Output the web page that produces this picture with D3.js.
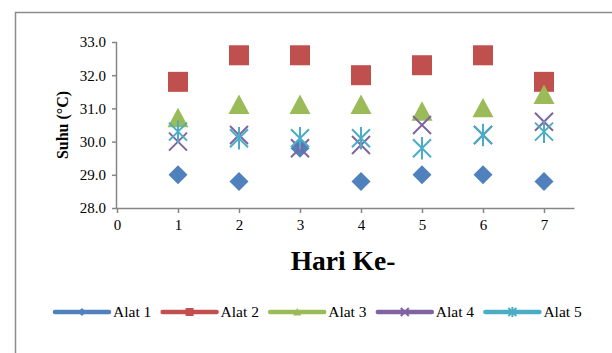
<!DOCTYPE html>
<html>
<head>
<meta charset="utf-8">
<script src="https://cdn.jsdelivr.net/npm/d3@7"></script>
<style>
  html, body { margin: 0; padding: 0; background: #fff; }
  svg { display: block; }
  text { font-family: "Liberation Serif", "Times New Roman", serif; fill: #000; }
</style>
</head>
<body>
<script>
// Daily temperature readings (°C) from five devices
const days = [1, 2, 3, 4, 5, 6, 7];
const alat1 = [29.0, 28.8, 29.8, 28.8, 29.0, 29.0, 28.8];
const alat2 = [31.8, 32.6, 32.6, 32.0, 32.3, 32.6, 31.8];
const alat3 = [30.7, 31.1, 31.1, 31.1, 30.9, 31.0, 31.4];
const alat4 = [30.0, 30.2, 29.8, 29.9, 30.5, 30.2, 30.6];
const alat5 = [30.3, 30.1, 30.1, 30.1, 29.8, 30.2, 30.3];
const seriesNames = ["Alat 1", "Alat 2", "Alat 3", "Alat 4", "Alat 5"];
const xTicks = [0, 1, 2, 3, 4, 5, 6, 7];
const yTicks = [28, 29, 30, 31, 32, 33];

const series = [
  { name: seriesNames[0], values: alat1, color: "#4F81BD", shape: "diamond" },
  { name: seriesNames[1], values: alat2, color: "#C0504D", shape: "square" },
  { name: seriesNames[2], values: alat3, color: "#9BBB59", shape: "triangle" },
  { name: seriesNames[3], values: alat4, color: "#8064A2", shape: "x" },
  { name: seriesNames[4], values: alat5, color: "#4BACC6", shape: "star" }
];

const W = 612, H = 353;
const svg = d3.select("body").append("svg").attr("width", W).attr("height", H);

// chart frame
svg.append("path")
  .attr("d", `M15.5,${H} V12.5 H${W}`)
  .attr("fill", "none").attr("stroke", "#8c8c8c").attr("stroke-width", 1.5);

const x = d3.scaleLinear().domain([0, 7.5]).range([117, 574.5]);
const y = d3.scaleLinear().domain([28, 33]).range([208, 42]);
const axisColor = "#868686";

// y axis
const gy = svg.append("g").attr("transform", `translate(${x(0)},0)`)
  .call(d3.axisLeft(y).tickValues(yTicks).tickFormat(d3.format(".1f")).tickSize(5).tickPadding(6));
// x axis
const gx = svg.append("g").attr("transform", `translate(0,${y(28)})`)
  .call(d3.axisBottom(x).tickValues(xTicks).tickFormat(d3.format("d")).tickSize(5).tickPadding(6));
[gx, gy].forEach(g => {
  g.selectAll("path, line").attr("stroke", axisColor).attr("stroke-width", 1.5);
  g.selectAll("text").attr("font-family", "Liberation Serif").attr("font-size", 15).attr("fill", "#000");
});
gx.select(".domain").attr("d", `M${x(0)},0.5H${x(7.5)}`);
gy.select(".domain").attr("d", `M-0.5,${y(33)}V${y(28)}`);

// axis titles
svg.append("text")
  .attr("transform", `translate(68,${(y(28) + y(33)) / 2}) rotate(-90)`)
  .attr("text-anchor", "middle")
  .attr("font-weight", "bold").attr("font-size", 16)
  .text("Suhu (°C)");
svg.append("text")
  .attr("x", 343).attr("y", 270)
  .attr("text-anchor", "middle")
  .attr("font-weight", "bold").attr("font-size", 27.5)
  .text("Hari Ke-");

// marker drawing
function drawMarker(g, shape, color, s) {
  if (shape === "diamond") {
    g.append("path").attr("d", `M0,${-s}L${s},0L0,${s}L${-s},0Z`).attr("fill", color);
  } else if (shape === "square") {
    g.append("rect").attr("x", -s).attr("y", -s).attr("width", 2 * s).attr("height", 2 * s).attr("fill", color);
  } else if (shape === "triangle") {
    g.append("path").attr("d", `M0,${-s}L${s},${s * 0.85}L${-s},${s * 0.85}Z`).attr("fill", color);
  } else if (shape === "x") {
    g.append("path").attr("d", `M${-s},${-s}L${s},${s}M${s},${-s}L${-s},${s}`)
      .attr("stroke", color).attr("stroke-width", 2).attr("fill", "none");
  } else if (shape === "star") {
    g.append("path").attr("d", `M${-s},${-s}L${s},${s}M${s},${-s}L${-s},${s}M0,${-s * 1.25}V${s * 1.25}`)
      .attr("stroke", color).attr("stroke-width", 2).attr("fill", "none");
  }
}

const sizes = { diamond: 9.5, square: 10, triangle: 10.5, x: 9, star: 9 };

series.forEach(sr => {
  const g = svg.append("g");
  days.forEach((d, i) => {
    const m = g.append("g").attr("transform", `translate(${x(d)},${y(sr.values[i])})`);
    drawMarker(m, sr.shape, sr.color, sizes[sr.shape]);
  });
});

// legend
const legendY = 312;
const legendX0 = 55, legendStep = 107.6;
series.forEach((sr, i) => {
  const lx = legendX0 + i * legendStep;
  const g = svg.append("g").attr("transform", `translate(${lx},${legendY})`);
  g.append("line").attr("x1", 0).attr("x2", 54).attr("y1", 0).attr("y2", 0)
    .attr("stroke", sr.color).attr("stroke-width", 4.5).attr("stroke-linecap", "round");
  const m = g.append("g").attr("transform", "translate(27,0)");
  drawMarker(m, sr.shape, sr.color, 4);
  g.append("text").attr("x", 58).attr("y", 5)
    .attr("font-size", 15.5).text(sr.name);
});
</script>
</body>
</html>
